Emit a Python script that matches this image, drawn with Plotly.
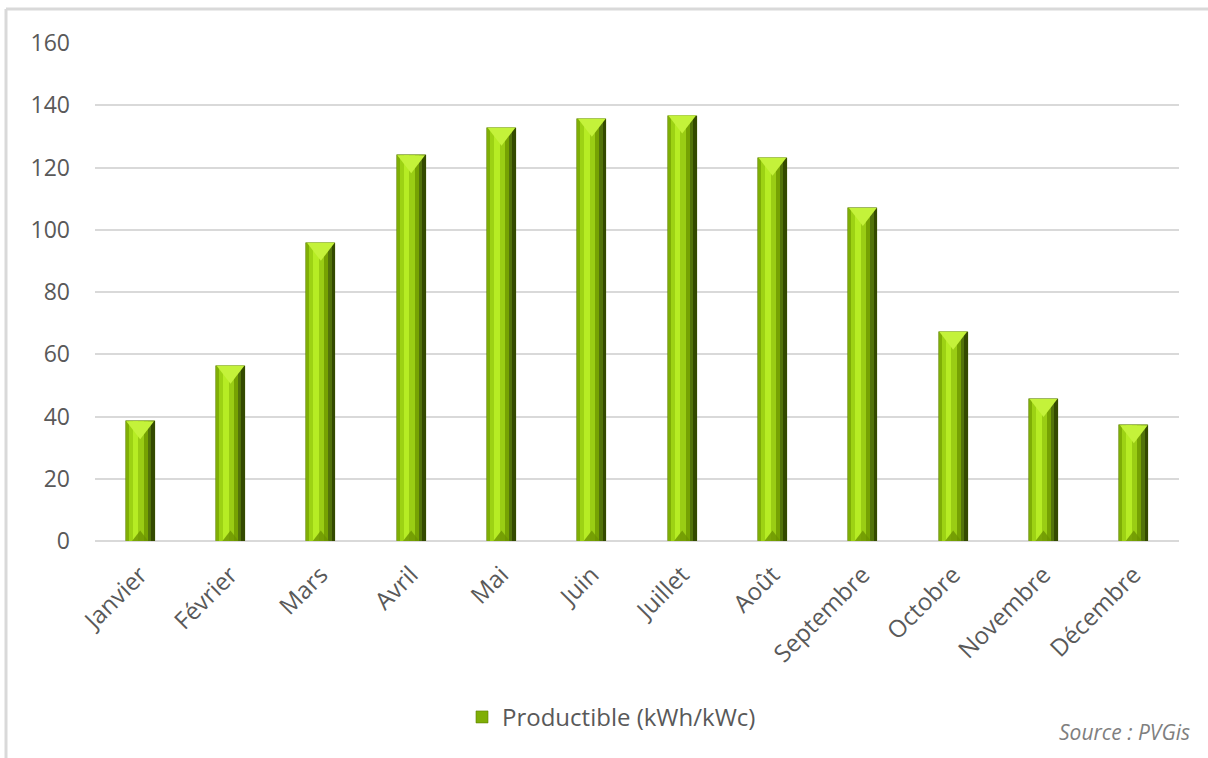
import plotly.graph_objects as go

months = ["Janvier", "Février", "Mars", "Avril", "Mai", "Juin", "Juillet",
          "Août", "Septembre", "Octobre", "Novembre", "Décembre"]
productible = [38.5, 56.3, 95.8, 123.9, 132.8, 135.7, 136.7, 123.1, 107.0, 67.2, 45.6, 37.2]
y_ticks = [0, 20, 40, 60, 80, 100, 120, 140, 160]
series_name = "Productible (kWh/kWc)"
source_text = "Source : PVGis"

FONT = "Open Sans"
GRAY = "#595959"
GRID = "#d9d9d9"

BAR_W = 0.32
fig = go.Figure()

# base bar (legend entry)
fig.add_trace(go.Bar(x=months, y=productible, name=series_name, width=BAR_W,
                     offset=-BAR_W / 2, marker=dict(color="#7fae06", line=dict(width=0.6, color="#5c7d00")),
                     showlegend=True, hoverinfo="skip"))

# bevel strips
strips = [  # (start fraction, width fraction, color)
    (0.00, 0.10, "#7fae06"),
    (0.10, 0.14, "#9dd214"),
    (0.24, 0.20, "#b6ec24"),
    (0.44, 0.18, "#9acd14"),
    (0.62, 0.14, "#76a203"),
    (0.76, 0.12, "#52730a"),
    (0.88, 0.12, "#344a00"),
]
for start, w, col in strips:
    fig.add_trace(go.Bar(x=months, y=productible, width=BAR_W * w,
                         offset=-BAR_W / 2 + BAR_W * start,
                         marker=dict(color=col, line=dict(width=0)),
                         showlegend=False, hoverinfo="skip"))

# top bevel (triangle) and bottom bevel
px_per_unit = 498.5 / 160.0
tri_size = 24
shift = (tri_size / 4) / px_per_unit
fig.add_trace(go.Scatter(x=months, y=[v - shift for v in productible], mode="markers",
                         marker=dict(symbol="triangle-down", size=tri_size, color="#c4f23a",
                                     line=dict(width=0)),
                         showlegend=False, hoverinfo="skip", cliponaxis=False))
fig.add_trace(go.Scatter(x=months, y=[shift * 0.6 for _ in productible], mode="markers",
                         marker=dict(symbol="triangle-up", size=14, color="#6b9300",
                                     line=dict(width=0), opacity=0.8),
                         showlegend=False, hoverinfo="skip"))

L, R, T, B = 95, 29, 43, 216.5
W, H = 1208, 758
pw, ph = W - L - R, H - T - B

def px_x(x):
    return (x - L) / pw

def px_y(y):
    return (H - B - y) / ph

fig.update_layout(
    width=W, height=H,
    margin=dict(l=L, r=R, t=T, b=B, pad=0),
    paper_bgcolor="white", plot_bgcolor="white",
    barmode="overlay", bargap=0,
    font=dict(family=FONT, color=GRAY, size=22),
    xaxis=dict(type="category", range=[-0.5, len(months) - 0.5], tickangle=-45,
               tickfont=dict(size=24, color=GRAY), ticklabelstandoff=14,
               showgrid=False, showline=False, ticks="", zeroline=False),
    yaxis=dict(range=[0, 160], tickvals=y_ticks, tickfont=dict(size=23, color=GRAY),
               showgrid=True, gridcolor=GRID, gridwidth=2, zeroline=True,
               zerolinecolor=GRID, zerolinewidth=2, ticks="", ticklen=0,
               showline=False, ticklabelstandoff=24),
    legend=dict(orientation="h", x=px_x(462), xanchor="left", y=px_y(718), yanchor="middle",
                font=dict(size=24, color=GRAY), bgcolor="rgba(0,0,0,0)",
                itemwidth=30),
    showlegend=True,
    annotations=[dict(text="<i>" + source_text + "</i>", xref="paper", yref="paper",
                      x=px_x(1192), y=px_y(733),
                      xanchor="right", yanchor="middle", showarrow=False,
                      font=dict(size=21, color="#7f7f7f", family=FONT))],
    shapes=[
        dict(type="line", xref="paper", yref="paper", x0=px_x(6), x1=px_x(1210),
             y0=px_y(9), y1=px_y(9), line=dict(color=GRID, width=3)),
        dict(type="line", xref="paper", yref="paper", x0=px_x(6), x1=px_x(6),
             y0=px_y(9), y1=px_y(760), line=dict(color=GRID, width=3)),
    ],
)

fig.write_html("out.html")
